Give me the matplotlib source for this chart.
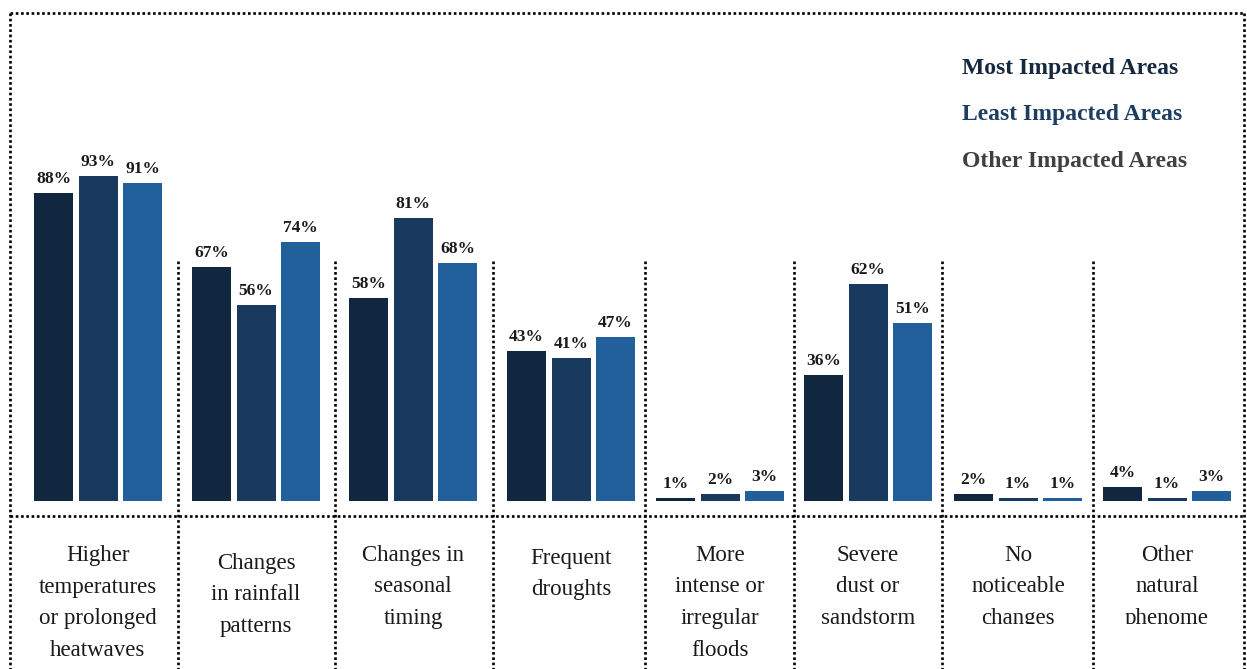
import matplotlib
matplotlib.use("Agg")
import matplotlib.pyplot as plt
from matplotlib.lines import Line2D
from matplotlib.transforms import Bbox

# ---------------- data ----------------
categories = [
    "Higher\ntemperatures\nor prolonged\nheatwaves",
    "Changes\nin rainfall\npatterns",
    "Changes in\nseasonal\ntiming",
    "Frequent\ndroughts",
    "More\nintense or\nirregular\nfloods",
    "Severe\ndust or\nsandstorm",
    "No\nnoticeable\nchanges",
    "Other\nnatural\nphenome",
]
series_names = ["Most Impacted Areas", "Least Impacted Areas", "Other Impacted Areas"]
most_impacted = [88, 67, 58, 43, 1, 36, 2, 4]
least_impacted = [93, 56, 81, 41, 2, 62, 1, 1]
other_impacted = [91, 74, 68, 47, 3, 51, 1, 3]

# ---------------- style / layout ----------------
W, H = 1247, 669
bar_colors = ["#10273f", "#173a5e", "#21609a"]
legend_colors = ["#14283f", "#1c3e63", "#404040"]
serif = ["Liberation Serif", "DejaVu Serif"]

group_centers = [98, 256, 413, 571, 720, 868, 1018, 1167]   # pixel layout
boundaries = [178, 335, 493, 645, 794, 942, 1093]
left_border, right_border = 10, 1244
top_border, hline_y, sep_top = 13, 516, 261
baseline_px = 501
px_per_pct = 3.5
bar_w, bar_step = 39, 44.5
label_first = [553, 561, 553, 556, 553, 553, 553, 553]   # centre of first line
clip_bottom = [None, None, None, None, None, None, 624, 624]
line_gap = 31.5

fig = plt.figure(figsize=(W / 100, H / 100), dpi=100)
ax = fig.add_axes([0, 0, 1, 1])
ax.set_xlim(0, W)
ax.set_ylim(-(H - baseline_px) / px_per_pct, baseline_px / px_per_pct)
ax.axis("off")

series = [most_impacted, least_impacted, other_impacted]
for s, (vals, col) in enumerate(zip(series, bar_colors)):
    xs = [c + (s - 1) * bar_step for c in group_centers]
    bars = ax.bar(xs, vals, width=bar_w, color=col, linewidth=0)
    for b, v in zip(bars, vals):
        ax.annotate(f"{v}%", (b.get_x() + b.get_width() / 2, b.get_height()),
                    xytext=(0, 4), textcoords="offset points",
                    ha="center", va="bottom", fontsize=12.5, fontweight="bold",
                    family=serif, color="#1a1a1a")

# ---------------- dotted frame (pixel coords, y from top) ----------------
def pix_line(x0, y0, x1, y1):
    ln = Line2D([x0 / W, x1 / W], [1 - y0 / H, 1 - y1 / H], transform=fig.transFigure,
                color="black", lw=1.9, linestyle=(0, (1.0, 1.0)),
                dash_capstyle="butt", solid_capstyle="butt")
    fig.add_artist(ln)

pix_line(left_border, top_border, right_border, top_border)
pix_line(left_border, top_border, left_border, H)
pix_line(right_border, top_border, right_border, H)
pix_line(left_border, hline_y, right_border, hline_y)
for bx in boundaries:
    pix_line(bx, sep_top, bx, H)

# ---------------- category labels (one text per line) ----------------
for i, (c, lab) in enumerate(zip(group_centers, categories)):
    for k, line in enumerate(lab.split("\n")):
        ypx = label_first[i] + k * line_gap
        t = fig.text(c / W, 1 - ypx / H, line, ha="center", va="center_baseline",
                     fontsize=16.5, family=serif, color="#1a1a1a")
        if clip_bottom[i] is not None:
            t.set_clip_box(Bbox.from_extents(0, H - clip_bottom[i], W, H))
            t.set_clip_on(True)

# ---------------- legend as text ----------------
for name, col, ypx in zip(series_names, legend_colors, [66, 112, 159]):
    fig.text(962 / W, 1 - ypx / H, name, ha="left", va="center_baseline", fontsize=17,
             fontweight="bold", family=serif, color=col)

fig.savefig("out.png", dpi=100)
